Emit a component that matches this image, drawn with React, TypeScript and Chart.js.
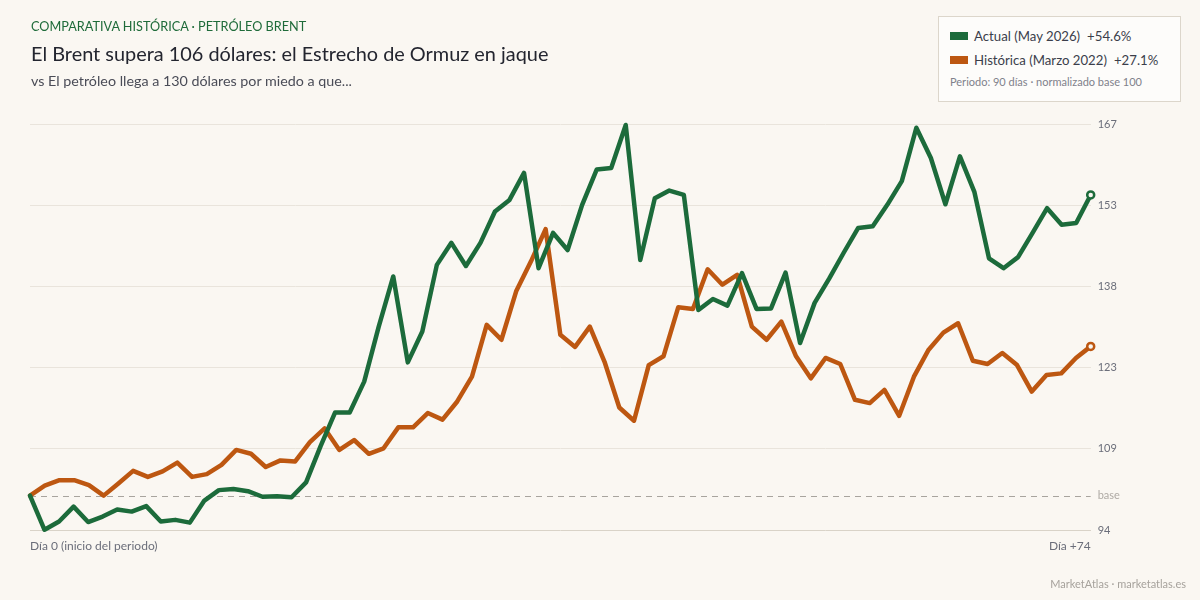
import React, { useEffect, useRef } from 'react';
import { Chart, registerables } from 'chart.js';

Chart.register(...registerables);

// ---------- data ----------
const categoryText = 'COMPARATIVA HISTÓRICA · PETRÓLEO BRENT';
const titleText = 'El Brent supera 106 dólares: el Estrecho de Ormuz en jaque';
const subtitleText = 'vs El petróleo llega a 130 dólares por miedo a que...';
const noteText = 'Periodo: 90 días · normalizado base 100';
const footerText = 'MarketAtlas · marketatlas.es';

const actualLabel = 'Actual (May 2026)';
const historicLabel = 'Histórica (Marzo 2022)';

// normalised index, base 100 (Actual, 74 observations)
const actualValues = [
  100, 93.8, 95.3, 98.0, 95.2, 96.2, 97.5, 97.1, 98.1, 95.3,
  95.6, 95.1, 99.1, 101.0, 101.2, 100.8, 99.8, 99.9, 99.7, 102.4,
  109.0, 115.1, 115.1, 120.7, 130.7, 139.8, 124.2, 129.8, 141.9, 145.9,
  141.7, 145.9, 151.6, 153.7, 158.6, 141.3, 147.7, 144.6, 152.8, 159.2,
  159.5, 167.3, 142.8, 154.0, 155.4, 154.6, 133.7, 135.7, 134.5, 140.4,
  133.9, 134.0, 140.5, 127.7, 135.0, 139.4, 144.1, 148.6, 148.9, 152.8,
  157.1, 166.8, 161.3, 152.9, 161.6, 155.1, 143.1, 141.3, 143.3, 147.7,
  152.2, 149.2, 149.5, 154.6,
];

// normalised index, base 100 (Histórica, 73 observations)
const historicValues = [
  100, 101.8, 102.8, 102.8, 101.9, 100.0, 102.2, 104.5, 103.4, 104.4,
  106.0, 103.4, 103.9, 105.6, 108.3, 107.6, 105.2, 106.4, 106.2, 109.7,
  112.2, 108.3, 110.1, 107.6, 108.6, 112.4, 112.4, 115.0, 113.8, 117.1,
  121.6, 131.0, 128.3, 137.1, 142.5, 148.4, 129.2, 127.0, 130.7, 124.3,
  116.0, 113.6, 123.7, 125.3, 134.2, 133.9, 141.1, 138.3, 140.1, 130.7,
  128.3, 131.6, 125.3, 121.3, 125.0, 123.9, 117.4, 116.8, 119.2, 114.5,
  121.6, 126.5, 129.6, 131.3, 124.5, 123.9, 125.9, 123.7, 118.9, 121.9,
  122.2, 125.0, 127.1,
];

const xTickLabels = ['Día 0 (inicio del periodo)', 'Día +74'];
const baseValue = 100;
const baseLabel = 'base';
const yMin = 93.76;
const yMax = 167.48;
const yTickIntervals = 5;

// ---------- styles ----------
const BG = '#faf7f2';
const GREEN = '#1c6b3b';
const ORANGE = '#bd5711';
const FONT = 'Lato, "Noto Sans", sans-serif';

const pct = (arr: number[]) => {
  const p = (arr[arr.length - 1] / arr[0] - 1) * 100;
  return (p >= 0 ? '+' : '') + p.toFixed(1) + '%';
};

const toPoints = (arr: number[]) =>
  arr.map((v, i) => ({ x: i / (arr.length - 1), y: v }));

const baseLinePlugin = {
  id: 'baseLine',
  beforeDatasetsDraw(chart: any) {
    const { ctx, chartArea, scales } = chart;
    const y = Math.round(scales.y.getPixelForValue(baseValue)) + 0.5;
    ctx.save();
    ctx.setLineDash([6, 5]);
    ctx.strokeStyle = '#a8a49e';
    ctx.lineWidth = 1;
    ctx.beginPath();
    ctx.moveTo(chartArea.left, y);
    ctx.lineTo(chartArea.right, y);
    ctx.stroke();
    ctx.restore();
  },
};

function ChartCanvas() {
  const ref = useRef<HTMLCanvasElement | null>(null);
  useEffect(() => {
    if (!ref.current) return;
    const lastA = actualValues.length - 1;
    const lastH = historicValues.length - 1;
    const chart = new Chart(ref.current, {
      type: 'line',
      data: {
        datasets: [
          {
            label: actualLabel,
            data: toPoints(actualValues),
            borderColor: GREEN,
            borderWidth: 4.5,
            borderJoinStyle: 'round',
            borderCapStyle: 'round',
            tension: 0,
            clip: false,
            pointRadius: (c: any) => (c.dataIndex === lastA ? 3.5 : 0),
            pointBackgroundColor: BG,
            pointBorderColor: GREEN,
            pointBorderWidth: 2.5,
          },
          {
            label: historicLabel,
            data: toPoints(historicValues),
            borderColor: ORANGE,
            borderWidth: 4.5,
            borderJoinStyle: 'round',
            borderCapStyle: 'round',
            tension: 0,
            clip: false,
            pointRadius: (c: any) => (c.dataIndex === lastH ? 3.5 : 0),
            pointBackgroundColor: BG,
            pointBorderColor: ORANGE,
            pointBorderWidth: 2.5,
          },
        ],
      } as any,
      options: {
        animation: false,
        responsive: false,
        events: [],
        layout: { padding: { left: 30, top: 124, right: 0, bottom: 0 } },
        plugins: { legend: { display: false }, tooltip: { enabled: false } },
        scales: {
          x: {
            type: 'linear',
            min: 0,
            max: 1,
            grid: { display: false, drawTicks: false },
            border: { display: false },
            afterBuildTicks: (s: any) => {
              s.ticks = [{ value: 0 }, { value: 1 }];
            },
            afterFit: (s: any) => {
              s.height = 70;
            },
            ticks: {
              align: 'inner',
              autoSkip: false,
              maxRotation: 0,
              padding: 9,
              color: '#6b6e7a',
              font: { family: FONT, size: 12 },
              callback: (v: any) => (v === 0 ? xTickLabels[0] : xTickLabels[1]),
            },
          },
          y: {
            type: 'linear',
            position: 'right',
            min: yMin,
            max: yMax,
            border: { display: false },
            grid: {
              drawTicks: false,
              lineWidth: 1,
              color: (c: any) => {
                const v = c.tick ? c.tick.value : 0;
                if (Math.abs(v - baseValue) < 1e-6) return 'rgba(0,0,0,0)';
                if (Math.abs(v - yMin) < 1e-6) return '#d9d3c8';
                return '#e9e4dc';
              },
            },
            afterBuildTicks: (s: any) => {
              const step = (yMax - yMin) / yTickIntervals;
              const t: any[] = [];
              for (let i = 0; i <= yTickIntervals; i++) t.push({ value: yMin + i * step });
              t.push({ value: baseValue });
              t.sort((a, b) => a.value - b.value);
              s.ticks = t;
            },
            afterFit: (s: any) => {
              s.width = 109.3;
            },
            ticks: {
              padding: 7,
              font: { family: FONT, size: 11 },
              color: (c: any) =>
                c.tick && Math.abs(c.tick.value - baseValue) < 1e-6 ? '#aeaaa4' : '#6b6e7a',
              callback: (v: any) =>
                Math.abs(v - baseValue) < 1e-6 ? baseLabel : String(Math.round(v)),
            },
          },
        },
      } as any,
      plugins: [baseLinePlugin],
    });
    return () => chart.destroy();
  }, []);
  return <canvas ref={ref} width={1200} height={600} style={{ position: 'absolute', left: 0, top: 0 }} />;
}

export default function App() {
  const abs = (s: any) => ({ position: 'absolute' as const, whiteSpace: 'nowrap' as const, ...s });
  return (
    <div
      style={{
        position: 'fixed',
        left: 0,
        top: 0,
        width: 1200,
        height: 600,
        background: BG,
        fontFamily: FONT,
        overflow: 'hidden',
      }}
    >
      <ChartCanvas />
      <div style={abs({ left: 31, top: 18, fontSize: 12.7, lineHeight: '16px', color: '#1f6b3a' })}>{categoryText}</div>
      <div style={abs({ left: 31, top: 41, fontSize: 19.9, lineHeight: '24px', color: '#23252f' })}>{titleText}</div>
      <div style={abs({ left: 31, top: 72, fontSize: 14.3, lineHeight: '18px', color: '#4a4c57' })}>{subtitleText}</div>

      <div
        style={abs({
          left: 938,
          top: 16,
          width: 243,
          height: 86,
          boxSizing: 'border-box',
          border: '1px solid #dcd6cb',
          background: '#fdfcfa',
        })}
      >
        <div style={abs({ left: 11, top: 15, width: 18, height: 8, background: GREEN })} />
        <div style={abs({ left: 35, top: 11, fontSize: 13.2, lineHeight: '16px', color: '#3b3e4b' })}>
          {actualLabel}
          <span style={{ marginLeft: 7 }}>{pct(actualValues)}</span>
        </div>
        <div style={abs({ left: 11, top: 39, width: 18, height: 8, background: ORANGE })} />
        <div style={abs({ left: 35, top: 35, fontSize: 13.2, lineHeight: '16px', color: '#3b3e4b' })}>
          {historicLabel}
          <span style={{ marginLeft: 7 }}>{pct(historicValues)}</span>
        </div>
        <div style={abs({ left: 11, top: 58, fontSize: 11, lineHeight: '14px', color: '#80818b' })}>{noteText}</div>
      </div>

      <div style={abs({ right: 14, top: 577, fontSize: 11, lineHeight: '14px', color: '#a6a29c' })}>{footerText}</div>
    </div>
  );
}
